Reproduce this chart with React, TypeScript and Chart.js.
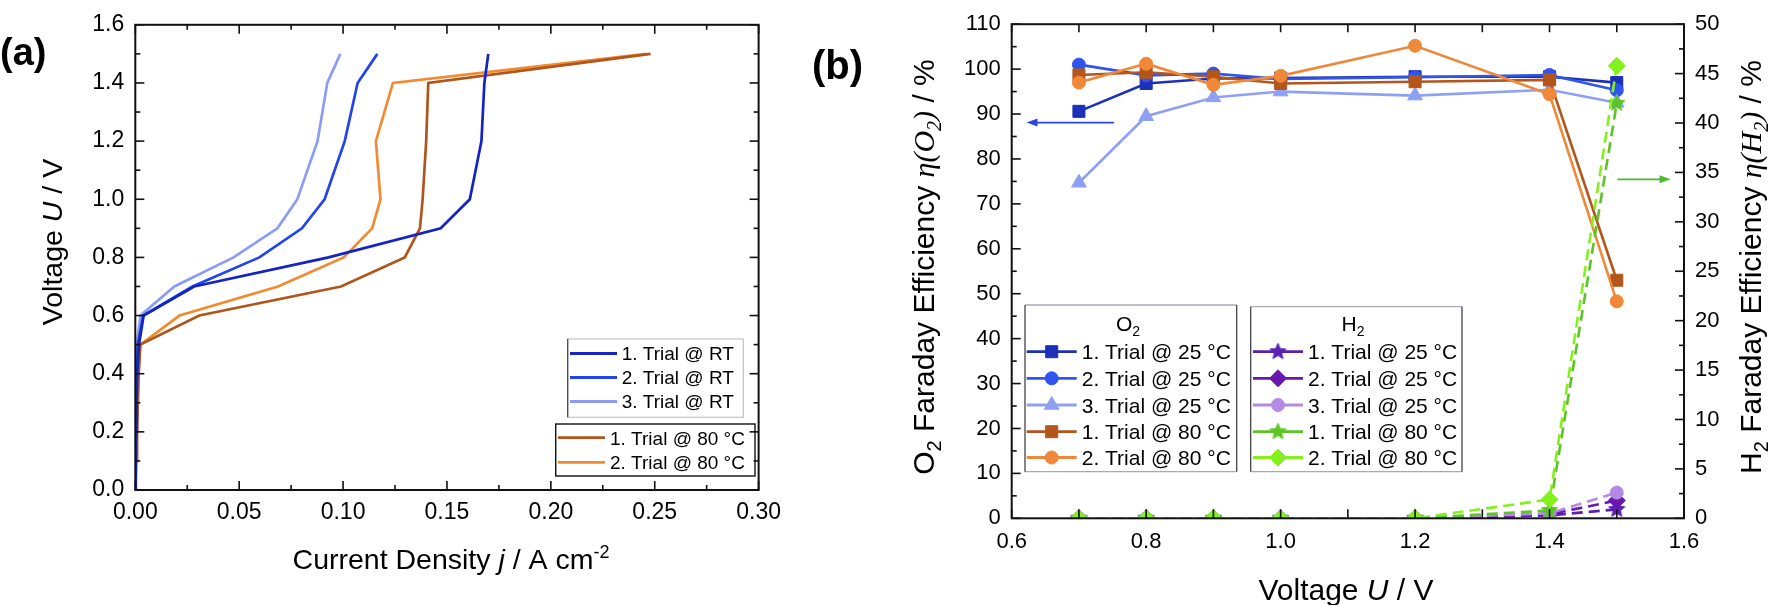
import { useEffect, useRef } from "react";
import { Chart, registerables } from "chart.js";
import { drawPoint } from "chart.js/helpers";

Chart.register(...registerables);

const SANS = '"Liberation Sans", Arial, Helvetica, sans-serif';
const SERIF = '"Liberation Serif", "Times New Roman", serif';

// ---- panel (a): polarization curves ----
const voltageA = [0, 0.1, 0.2, 0.3, 0.4, 0.5, 0.6, 0.7, 0.8, 0.9, 1.0, 1.2, 1.4, 1.5];
const jTrial1RT = [0, 0.0002, 0.0004, 0.0006, 0.0009, 0.0018, 0.004, 0.0283, 0.093, 0.147, 0.161, 0.1666, 0.168, 0.1699];
const jTrial2RT = [0, 0.0002, 0.0004, 0.0006, 0.0008, 0.0012, 0.0038, 0.0275, 0.0597, 0.0802, 0.0911, 0.1008, 0.107, 0.1165];
const jTrial3RT = [0, 0.0002, 0.0003, 0.0005, 0.0006, 0.0008, 0.0025, 0.0188, 0.0473, 0.0684, 0.078, 0.0877, 0.0924, 0.0987];
const jTrial1Hot = [0, 0.0004, 0.0008, 0.0012, 0.0016, 0.0024, 0.0308, 0.099, 0.1297, 0.137, 0.1383, 0.14, 0.141, 0.248];
const jTrial2Hot = [0, 0.0004, 0.0008, 0.0012, 0.0016, 0.0024, 0.0213, 0.0687, 0.1003, 0.114, 0.118, 0.1158, 0.124, 0.246];
const labelsA = ["1. Trial @ RT", "2. Trial @ RT", "3. Trial @ RT", "1. Trial @ 80 °C", "2. Trial @ 80 °C"];
const colorsA = ["#1424c4", "#2244ee", "#8c9cf5", "#b0561c", "#f28a30"];
const xTicksA = [0, 0.05, 0.1, 0.15, 0.2, 0.25, 0.3];
const yTicksA = [0, 0.2, 0.4, 0.6, 0.8, 1.0, 1.2, 1.4, 1.6];

// ---- panel (b): Faraday efficiency ----
const voltageB = [0.7, 0.8, 0.9, 1.0, 1.2, 1.4, 1.5];
const o2Trial1Cold = [90.6, 96.8, 97.9, 98.0, 98.3, 98.3, 97.0];
const o2Trial2Cold = [101.0, 98.6, 99.0, 97.8, 98.2, 98.7, 95.3];
const o2Trial3Cold = [74.7, 89.5, 93.7, 95.0, 94.1, 95.4, 92.5];
const o2Trial1Hot = [98.7, 99.3, 98.3, 96.8, 97.2, 97.6, 53.0];
const o2Trial2Hot = [97.0, 101.2, 96.5, 98.5, 105.2, 94.4, 48.3];
const h2Trial1Cold = [0, 0, 0, 0, 0, 0.3, 0.9];
const h2Trial2Cold = [0, 0, 0, 0, 0, 0.4, 1.8];
const h2Trial3Cold = [0, 0, 0, 0, 0, 0.5, 2.6];
const h2Trial1Hot = [0, 0, 0, 0, 0, 0.8, 42.0];
const h2Trial2Hot = [0, 0, 0, 0, 0, 1.9, 45.8];
const labelsB = ["1. Trial @ 25 °C", "2. Trial @ 25 °C", "3. Trial @ 25 °C", "1. Trial @ 80 °C", "2. Trial @ 80 °C"];
const colorsO2 = ["#1c30b8", "#2f55ee", "#8ea0f3", "#b4561c", "#f0883a"];
const colorsH2 = ["#5a20b0", "#6a16b0", "#b58ae6", "#5cc424", "#84f01c"];
const xTicksB = [0.6, 0.8, 1.0, 1.2, 1.4, 1.6];
const yTicksB = [0, 10, 20, 30, 40, 50, 60, 70, 80, 90, 100, 110];
const yTicksBRight = [0, 5, 10, 15, 20, 25, 30, 35, 40, 45, 50];
// arrows pointing at the axis each group belongs to: [x, y] start and end
const arrowO2 = [[0.752, 88.1], [0.622, 88.1]];
const arrowH2 = [[1.501, 34.3], [1.58, 34.3]];

const OFFSET_B = 790;

type Seg = { t: string; font: string; dy?: number };

function drawRich(ctx: CanvasRenderingContext2D, segs: Seg[], cx: number, cy: number, rot: number, base: number) {
  ctx.save();
  ctx.translate(cx, cy);
  ctx.rotate(rot);
  ctx.textAlign = "left";
  ctx.textBaseline = "alphabetic";
  ctx.fillStyle = "#000";
  let total = 0;
  for (const s of segs) {
    ctx.font = s.font;
    total += ctx.measureText(s.t).width;
  }
  let x = -total / 2;
  for (const s of segs) {
    ctx.font = s.font;
    ctx.fillText(s.t, x, base + (s.dy ?? 0));
    x += ctx.measureText(s.t).width;
  }
  ctx.restore();
}

function minors(major: number[]) {
  const out: number[] = [];
  for (let i = 0; i < major.length - 1; i++) out.push((major[i] + major[i + 1]) / 2);
  return out;
}

function line(ctx: CanvasRenderingContext2D, x1: number, y1: number, x2: number, y2: number) {
  ctx.beginPath();
  ctx.moveTo(x1, y1);
  ctx.lineTo(x2, y2);
  ctx.stroke();
}

function makeStar(color: string, r: number) {
  const c = document.createElement("canvas");
  const s = Math.ceil(r * 2 + 2);
  c.width = s;
  c.height = s;
  const g = c.getContext("2d")!;
  g.beginPath();
  for (let i = 0; i < 10; i++) {
    const rr = i % 2 === 0 ? r : r * 0.45;
    const a = -Math.PI / 2 + (i * Math.PI) / 5;
    const px = s / 2 + Math.cos(a) * rr;
    const py = s / 2 + Math.sin(a) * rr;
    if (i === 0) g.moveTo(px, py);
    else g.lineTo(px, py);
  }
  g.closePath();
  g.fillStyle = color;
  g.fill();
  g.strokeStyle = color;
  g.lineWidth = 1;
  g.stroke();
  return c;
}

function tickFont(size: number) {
  return { family: SANS, size };
}

function PanelA() {
  const ref = useRef<HTMLCanvasElement | null>(null);

  useEffect(() => {
    if (!ref.current) return;
    const series = [jTrial1RT, jTrial2RT, jTrial3RT, jTrial1Hot, jTrial2Hot];

    const frame = {
      id: "frameA",
      afterDraw(chart: any) {
        const { ctx, chartArea: a, scales } = chart;
        ctx.save();
        ctx.strokeStyle = "#111";
        ctx.lineWidth = 2;
        ctx.strokeRect(a.left, a.top, a.right - a.left, a.bottom - a.top);
        ctx.lineWidth = 1.6;
        const xs = scales.x;
        const ys = scales.y;
        for (const [vals, len] of [[xTicksA, 9], [minors(xTicksA), 5]] as [number[], number][]) {
          for (const v of vals) {
            const px = xs.getPixelForValue(v);
            line(ctx, px, a.bottom, px, a.bottom - len);
            line(ctx, px, a.top, px, a.top + len);
          }
        }
        for (const [vals, len] of [[yTicksA, 9], [minors(yTicksA), 5]] as [number[], number][]) {
          for (const v of vals) {
            const py = ys.getPixelForValue(v);
            line(ctx, a.left, py, a.left + len, py);
            line(ctx, a.right, py, a.right - len, py);
          }
        }
        // panel label
        ctx.fillStyle = "#000";
        ctx.font = `bold 38px ${SANS}`;
        ctx.textAlign = "left";
        ctx.textBaseline = "alphabetic";
        ctx.fillText("(a)", 0, 65);
        // axis titles
        const f = `28.5px ${SANS}`;
        const fi = `italic 28.5px ${SANS}`;
        drawRich(ctx, [{ t: "Voltage ", font: f }, { t: "U", font: fi }, { t: " / V", font: f }], 52, 242, -Math.PI / 2, 10.3);
        drawRich(
          ctx,
          [
            { t: "Current Density ", font: f },
            { t: "j", font: fi },
            { t: " / A cm", font: f },
            { t: "-2", font: `18px ${SANS}`, dy: -11 },
          ],
          451,
          559,
          0,
          10.3
        );
        // legend
        const drawRow = (k: number, y: number, x1: number, x2: number, tx: number) => {
          ctx.strokeStyle = colorsA[k];
          ctx.lineWidth = 2.8;
          line(ctx, x1, y, x2, y);
          ctx.fillStyle = "#000";
          ctx.font = `19px ${SANS}`;
          ctx.fillText(labelsA[k], tx, y + 6.8);
        };
        ctx.lineWidth = 1.2;
        ctx.strokeStyle = "#c4c4c4";
        ctx.strokeRect(567.7, 339, 175.6, 78.3);
        ctx.strokeStyle = "#444";
        line(ctx, 567.7, 339, 567.7, 417.3);
        [353.5, 377.5, 401.5].forEach((y, i) => drawRow(i, y, 570, 617, 621.7));
        ctx.lineWidth = 1.4;
        ctx.strokeStyle = "#111";
        ctx.strokeRect(555.7, 424, 199.3, 52);
        [437.7, 462.3].forEach((y, i) => drawRow(i + 3, y, 558, 605, 610));
        ctx.restore();
      },
    };

    const chart = new Chart(ref.current, {
      type: "scatter",
      data: {
        datasets: series.map((js, k) => ({
          label: labelsA[k],
          data: voltageA.map((v, i) => ({ x: js[i], y: v })),
          showLine: true,
          borderColor: colorsA[k],
          backgroundColor: colorsA[k],
          borderWidth: 2.7,
          pointRadius: 0,
          pointHoverRadius: 0,
          tension: 0,
        })),
      },
      options: {
        animation: false,
        responsive: true,
        maintainAspectRatio: false,
        events: [],
        layout: { padding: { top: 16.5, right: 23, left: 0, bottom: 0 } },
        plugins: { legend: { display: false }, tooltip: { enabled: false } },
        scales: {
          x: {
            type: "linear",
            min: 0,
            max: 0.3,
            afterBuildTicks: (s: any) => {
              s.ticks = xTicksA.map((value) => ({ value }));
            },
            afterFit: (s: any) => {
              s.height = 115;
            },
            grid: { display: false, drawTicks: false },
            border: { display: false },
            ticks: {
              padding: 9,
              color: "#000",
              font: tickFont(23),
              maxRotation: 0,
              autoSkip: false,
              callback: (v: any) => Number(v).toFixed(2),
            },
          },
          y: {
            type: "linear",
            min: 0,
            max: 1.6,
            afterBuildTicks: (s: any) => {
              s.ticks = yTicksA.map((value) => ({ value }));
            },
            afterFit: (s: any) => {
              s.width = 135.3;
            },
            grid: { display: false, drawTicks: false },
            border: { display: false },
            ticks: {
              padding: 11,
              color: "#000",
              font: tickFont(23),
              autoSkip: false,
              callback: (v: any) => Number(v).toFixed(1),
            },
          },
        },
      },
      plugins: [frame],
    } as any);

    return () => chart.destroy();
  }, []);

  return (
    <div style={{ position: "absolute", left: 0, top: 0, width: OFFSET_B, height: 605 }}>
      <canvas ref={ref} />
    </div>
  );
}

function PanelB() {
  const ref = useRef<HTMLCanvasElement | null>(null);

  useEffect(() => {
    if (!ref.current) return;
    const o2 = [o2Trial1Cold, o2Trial2Cold, o2Trial3Cold, o2Trial1Hot, o2Trial2Hot];
    const h2 = [h2Trial1Cold, h2Trial2Cold, h2Trial3Cold, h2Trial1Hot, h2Trial2Hot];
    const o2Styles: any[] = [
      { pointStyle: "rect", radius: 8.5 },
      { pointStyle: "circle", radius: 6.5 },
      { pointStyle: "triangle", radius: 8.5 },
      { pointStyle: "rect", radius: 8.5 },
      { pointStyle: "circle", radius: 6.5 },
    ];
    const h2Styles: any[] = [
      { pointStyle: makeStar(colorsH2[0], 8.5), radius: 8 },
      { pointStyle: "rectRot", radius: 8.5 },
      { pointStyle: "circle", radius: 6.5 },
      { pointStyle: makeStar(colorsH2[3], 8.5), radius: 8 },
      { pointStyle: "rectRot", radius: 8.5 },
    ];

    const datasets: any[] = [];
    o2.forEach((vals, k) => {
      datasets.push({
        label: "O2 " + labelsB[k],
        data: voltageB.map((v, i) => ({ x: v, y: vals[i] })),
        yAxisID: "y",
        showLine: true,
        borderColor: colorsO2[k],
        backgroundColor: colorsO2[k],
        borderWidth: 2.6,
        pointStyle: o2Styles[k].pointStyle,
        pointRadius: o2Styles[k].radius,
        pointBorderWidth: 1,
        pointBorderColor: colorsO2[k],
        pointBackgroundColor: colorsO2[k],
        pointHoverRadius: o2Styles[k].radius,
        order: 10 - k,
        clip: 0,
      });
    });
    h2.forEach((vals, k) => {
      datasets.push({
        label: "H2 " + labelsB[k],
        data: voltageB.map((v, i) => ({ x: v, y: vals[i] })),
        yAxisID: "yR",
        showLine: true,
        borderColor: colorsH2[k],
        backgroundColor: colorsH2[k],
        borderWidth: 2.6,
        borderDash: [11, 6],
        pointStyle: h2Styles[k].pointStyle,
        pointRadius: h2Styles[k].radius,
        pointBorderWidth: 1,
        pointBorderColor: colorsH2[k],
        pointBackgroundColor: colorsH2[k],
        pointHoverRadius: h2Styles[k].radius,
        order: 4 - k,
        clip: 0,
      });
    });

    const arrow = (ctx: CanvasRenderingContext2D, x1: number, y1: number, x2: number, y2: number, color: string) => {
      ctx.strokeStyle = color;
      ctx.fillStyle = color;
      ctx.lineWidth = 1.8;
      const dir = Math.sign(x2 - x1);
      line(ctx, x1, y1, x2 - dir * 8, y2);
      ctx.beginPath();
      ctx.moveTo(x2, y2);
      ctx.lineTo(x2 - dir * 11, y2 - 4);
      ctx.lineTo(x2 - dir * 11, y2 + 4);
      ctx.closePath();
      ctx.fill();
    };

    const frame = {
      id: "frameB",
      afterDraw(chart: any) {
        const { ctx, chartArea: a, scales } = chart;
        const xs = scales.x;
        const yl = scales.y;
        const yr = scales.yR;
        ctx.save();
        ctx.strokeStyle = "#111";
        ctx.lineWidth = 2;
        ctx.strokeRect(a.left, a.top, a.right - a.left, a.bottom - a.top);
        ctx.lineWidth = 1.6;
        const xAll = [...xTicksB, ...minors(xTicksB)];
        for (const v of xAll) {
          const px = xs.getPixelForValue(v);
          line(ctx, px, a.bottom, px, a.bottom - 9);
          line(ctx, px, a.top, px, a.top + 8);
        }
        for (const [vals, len] of [[yTicksB, 9], [minors(yTicksB), 5]] as [number[], number][]) {
          for (const v of vals) {
            const py = yl.getPixelForValue(v);
            line(ctx, a.left, py, a.left + len, py);
          }
        }
        for (const [vals, len] of [[yTicksBRight, 9], [minors(yTicksBRight), 5]] as [number[], number][]) {
          for (const v of vals) {
            const py = yr.getPixelForValue(v);
            line(ctx, a.right, py, a.right - len, py);
          }
        }
        // arrows
        arrow(
          ctx,
          xs.getPixelForValue(arrowO2[0][0]),
          yl.getPixelForValue(arrowO2[0][1]),
          xs.getPixelForValue(arrowO2[1][0]),
          yl.getPixelForValue(arrowO2[1][1]),
          "#2a45e0"
        );
        arrow(
          ctx,
          xs.getPixelForValue(arrowH2[0][0]),
          yr.getPixelForValue(arrowH2[0][1]),
          xs.getPixelForValue(arrowH2[1][0]),
          yr.getPixelForValue(arrowH2[1][1]),
          "#4cb82a"
        );
        // panel label
        ctx.fillStyle = "#000";
        ctx.font = `bold 40px ${SANS}`;
        ctx.textAlign = "left";
        ctx.textBaseline = "alphabetic";
        ctx.fillText("(b)", 22, 79);
        // axis titles
        const f = `30px ${SANS}`;
        const fs = `20px ${SANS}`;
        const fi = `italic 30px ${SERIF}`;
        const fis = `italic 20px ${SERIF}`;
        const yTitle = (el: string): Seg[] => [
          { t: el, font: f },
          { t: "2", font: fs, dy: 7 },
          { t: " Faraday Efficiency ", font: f },
          { t: "η(" + el, font: fi },
          { t: "2", font: fis, dy: 7 },
          { t: ")", font: fi },
          { t: " / %", font: f },
        ];
        drawRich(ctx, yTitle("O"), 133, 267, -Math.PI / 2, 10.8);
        drawRich(ctx, yTitle("H"), 960, 267, -Math.PI / 2, 10.8);
        drawRich(
          ctx,
          [{ t: "Voltage ", font: f }, { t: "U", font: `italic 30px ${SANS}` }, { t: " / V", font: f }],
          556,
          589,
          0,
          10.8
        );
        // legend boxes
        const box = (x: number, y: number, w: number, h: number) => {
          ctx.lineWidth = 1.3;
          ctx.strokeStyle = "#a8aab8";
          line(ctx, x, y, x + w, y);
          line(ctx, x, y + h, x + w, y + h);
          ctx.strokeStyle = "#444";
          line(ctx, x, y, x, y + h);
          line(ctx, x + w, y, x + w, y + h);
        };
        box(235, 305, 211.7, 166.7);
        box(460.7, 306.7, 211.3, 165);
        drawRich(ctx, [{ t: "O", font: `21px ${SANS}` }, { t: "2", font: `14px ${SANS}`, dy: 5 }], 338, 323, 0, 7.5);
        drawRich(ctx, [{ t: "H", font: `21px ${SANS}` }, { t: "2", font: `14px ${SANS}`, dy: 5 }], 563, 323, 0, 7.5);
        const rows = [351.7, 378.3, 405, 431.7, 457.5];
        const legendRow = (color: string, style: any, label: string, y: number, x1: number, tx: number) => {
          ctx.strokeStyle = color;
          ctx.fillStyle = color;
          ctx.lineWidth = 2.8;
          line(ctx, x1, y, x1 + 50, y);
          ctx.lineWidth = 1;
          drawPoint(ctx, { pointStyle: style.pointStyle, radius: style.radius, rotation: 0, borderWidth: 1 } as any, x1 + 25, y);
          ctx.fillStyle = "#000";
          ctx.font = `21px ${SANS}`;
          ctx.textAlign = "left";
          ctx.textBaseline = "alphabetic";
          ctx.fillText(label, tx, y + 7.5);
        };
        rows.forEach((y, k) => {
          legendRow(colorsO2[k], o2Styles[k], labelsB[k], y, 236.7, 291.7);
          legendRow(colorsH2[k], h2Styles[k], labelsB[k], y, 463, 518);
        });
        ctx.restore();
      },
    };

    const chart = new Chart(ref.current, {
      type: "scatter",
      data: { datasets },
      options: {
        animation: false,
        responsive: true,
        maintainAspectRatio: false,
        events: [],
        layout: { padding: { top: 15.6, right: 0, left: 0, bottom: 0 } },
        plugins: { legend: { display: false }, tooltip: { enabled: false } },
        scales: {
          x: {
            type: "linear",
            min: 0.6,
            max: 1.6,
            afterBuildTicks: (s: any) => {
              s.ticks = xTicksB.map((value) => ({ value }));
            },
            afterFit: (s: any) => {
              s.height = 605 - 518.3;
            },
            grid: { display: false, drawTicks: false },
            border: { display: false },
            ticks: {
              padding: 10,
              color: "#000",
              font: tickFont(22),
              maxRotation: 0,
              autoSkip: false,
              callback: (v: any) => Number(v).toFixed(1),
            },
          },
          y: {
            type: "linear",
            position: "left",
            min: 0,
            max: 110,
            afterBuildTicks: (s: any) => {
              s.ticks = yTicksB.map((value) => ({ value }));
            },
            afterFit: (s: any) => {
              s.width = 1011.7 - OFFSET_B;
            },
            grid: { display: false, drawTicks: false },
            border: { display: false },
            ticks: { padding: 11, color: "#000", font: tickFont(22), autoSkip: false },
          },
          yR: {
            type: "linear",
            position: "right",
            min: 0,
            max: 50,
            afterBuildTicks: (s: any) => {
              s.ticks = yTicksBRight.map((value) => ({ value }));
            },
            afterFit: (s: any) => {
              s.width = 1772 - 1684;
            },
            grid: { display: false, drawTicks: false },
            border: { display: false },
            ticks: { padding: 11, color: "#000", font: tickFont(22), autoSkip: false },
          },
        },
      },
      plugins: [frame],
    } as any);

    return () => chart.destroy();
  }, []);

  return (
    <div style={{ position: "absolute", left: OFFSET_B, top: 0, width: 1772 - OFFSET_B, height: 605 }}>
      <canvas ref={ref} />
    </div>
  );
}

export default function App() {
  return (
    <div style={{ position: "absolute", left: 0, top: 0, width: 1772, height: 605, background: "#fff", overflow: "hidden" }}>
      <PanelA />
      <PanelB />
    </div>
  );
}
